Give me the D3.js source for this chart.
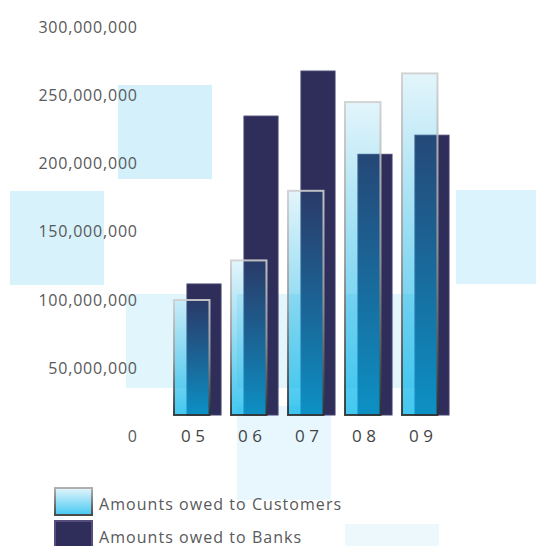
<!DOCTYPE html>
<html>
<head>
<meta charset="utf-8">
<script src="https://cdn.jsdelivr.net/npm/d3@7/dist/d3.min.js"></script>
<style>
  html, body { margin: 0; padding: 0; background: #ffffff; }
  svg { display: block; font-family: "Open Sans", "Noto Sans", sans-serif; }
</style>
</head>
<body>
<svg id="chart" width="536" height="546"></svg>
<script>
// ---- data ----
const years = ["05", "06", "07", "08", "09"];
const customers = [100e6, 129e6, 180e6, 245e6, 266e6];
const banks = [111e6, 234e6, 267e6, 206e6, 220e6];
const yTicks = [0, 50e6, 100e6, 150e6, 200e6, 250e6, 300e6];
const seriesNames = ["Amounts owed to Customers", "Amounts owed to Banks"];

// ---- drawing ----
const svg = d3.select("#chart");
const defs = svg.append("defs");

function vGradient(id, stops) {
  const g = defs.append("linearGradient")
    .attr("id", id).attr("x1", 0).attr("y1", 0).attr("x2", 0).attr("y2", 1);
  stops.forEach(s => g.append("stop")
    .attr("offset", s[0]).attr("stop-color", s[1]).attr("stop-opacity", s[2]));
}
vGradient("custFill", [[0, "rgb(0,165,220)", 0.11], [1, "rgb(0,180,234)", 0.74]]);
vGradient("custStroke", [[0, "#cfcfcf", 0.9], [0.5, "#9a9a9a", 0.9], [1, "#2e2e2e", 0.9]]);
vGradient("legendFill", [[0, "#e4f6fc", 1], [1, "#45c9f2", 1]]);
vGradient("legendStroke", [[0, "#b0b0b0", 1], [1, "#4a4a4a", 1]]);

// pale backdrop tiles
const backdropTiles = [
  [118, 85, "#d4f1fb"], [10, 191, "#d7f2fb"], [456, 190, "#daf3fc"],
  [126, 294, "#e0f5fc"], [237, 294, "#e2f6fc"], [345, 294, "#e4f6fd"],
  [237, 406, "#e8f7fd"], [345, 524, "#edf8fd"]
];
svg.append("g").selectAll("rect").data(backdropTiles).join("rect")
  .attr("x", d => d[0]).attr("y", d => d[1])
  .attr("width", 94).attr("height", 94)
  .attr("fill", d => d[2]);

// scales
const y = d3.scaleLinear().domain([0, 300e6]).range([435.5, 26]);
const x = d3.scaleBand().domain(years).range([173, 450])
  .paddingInner(0.14).paddingOuter(0).align(0);
const bw = x.bandwidth();
const base = y(0) - 20.5;   // bars stand just above the category labels

// y axis (labels only)
const yAxis = svg.append("g")
  .attr("transform", "translate(137.8,0)")
  .call(d3.axisLeft(y).tickValues(yTicks).tickFormat(d3.format(","))
    .tickSize(0).tickPadding(0));
yAxis.select(".domain").remove();
yAxis.selectAll("text")
  .attr("dy", "0.38em")
  .attr("font-family", "\"Open Sans\", sans-serif")
  .attr("font-size", 16)
  .attr("letter-spacing", "0.8px")
  .attr("fill", "#58595b");

// banks bars (behind)
svg.append("g").selectAll("rect").data(banks).join("rect")
  .attr("x", (d, i) => x(years[i]) + bw * 0.285)
  .attr("y", d => y(d))
  .attr("width", bw * 0.695)
  .attr("height", d => base - y(d))
  .attr("fill", "#2f2d5a")
  .attr("stroke", "#43416e")
  .attr("stroke-width", 1);

// customers bars (front, translucent)
svg.append("g").selectAll("rect").data(customers).join("rect")
  .attr("x", (d, i) => x(years[i]) + 1)
  .attr("y", d => y(d) + 1)
  .attr("width", bw * 0.765 - 2)
  .attr("height", d => base - y(d) - 1)
  .attr("fill", "url(#custFill)")
  .attr("stroke", "url(#custStroke)")
  .attr("stroke-width", 2);

// category labels
const xAxis = svg.append("g")
  .attr("transform", `translate(0,${y(0)})`)
  .call(d3.axisBottom(x).tickSize(0).tickPadding(0));
xAxis.select(".domain").remove();
xAxis.selectAll(".tick").attr("transform", d => `translate(${x(d) + bw / 2 - 2.3},0)`);
xAxis.selectAll("text")
  .attr("y", 0)
  .attr("dy", "0.36em")
  .attr("font-family", "\"Open Sans\", sans-serif")
  .attr("font-size", 17)
  .attr("letter-spacing", "4.5px")
  .attr("fill", "#444444");

// legend
const legend = svg.append("g");
const legendRows = legend.selectAll("g").data(seriesNames).join("g")
  .attr("transform", (d, i) => `translate(55,${488 + i * 33})`);
legendRows.append("rect")
  .attr("width", 37).attr("height", 27)
  .attr("fill", (d, i) => i === 0 ? "url(#legendFill)" : "#2f2d5a")
  .attr("stroke", (d, i) => i === 0 ? "url(#legendStroke)" : "#574c7e")
  .attr("stroke-width", 2);
legendRows.append("text")
  .attr("x", 44).attr("y", 21.5)
  .attr("font-size", 16)
  .attr("letter-spacing", "1.05px")
  .attr("fill", "#58595b")
  .text(d => d);
</script>
</body>
</html>
